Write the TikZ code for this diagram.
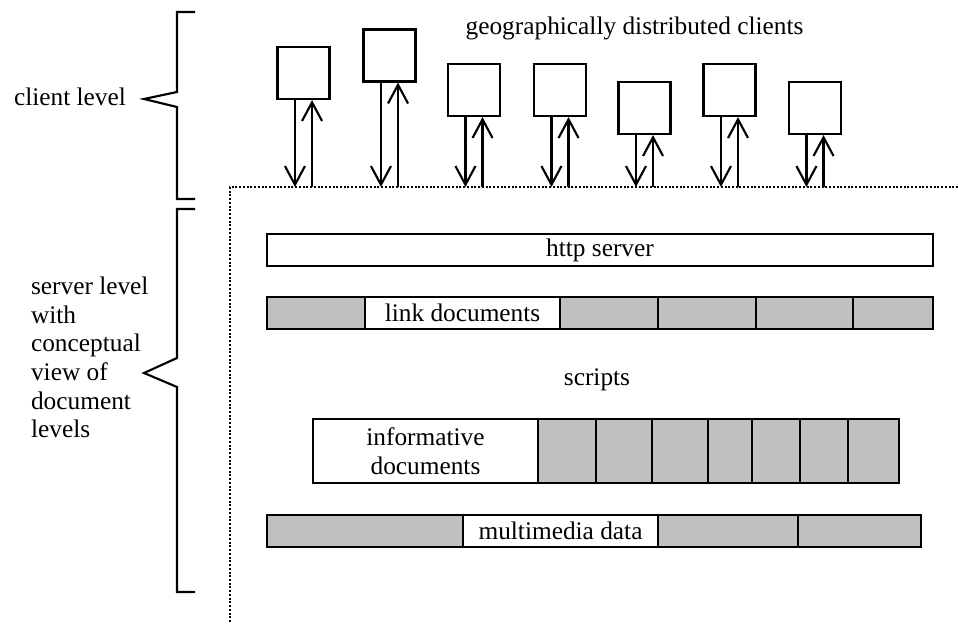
\documentclass[tikz,border=0pt]{standalone}
\usepackage{fontspec}
\setmainfont{Liberation Serif}
\usetikzlibrary{arrows.meta}
\definecolor{cellgray}{HTML}{C0C0C0}
\tikzset{
  client/.style={draw, fill=white, inner sep=0pt, minimum width=39pt, minimum height=39pt},
  cell/.style={draw, fill=cellgray, inner sep=0pt, minimum height=24pt},
  txtcell/.style={cell, fill=white, align=center},
  dnarrow/.style={-{Straight Barb[length=14pt,width=15pt]}},
  uparrow/.style={-{Straight Barb[length=14pt,width=15pt]}},
  dotline/.style={line width=1.5pt, dash pattern=on 1.5pt off 1.3pt},
}
\begin{document}
\begin{tikzpicture}[x=0.75pt, y=-0.75pt, line width=1.6pt, font=\fontsize{19}{21.5}\selectfont]
\useasboundingbox (0,0) rectangle (958,624);
% braces on the left
\draw[] (195,12) -- (177,12) -- (177,92) -- (144,99) -- (177,107) -- (177,199) -- (195,199);
\draw[] (195,209) -- (177,209) -- (177,358) -- (144,373) -- (177,387) -- (177,592) -- (195,592);
\node[anchor=base west, inner sep=0pt] (clientlvl) at (13,106) {client level};
\node[anchor=north west, align=left, inner sep=0pt] (serverlvl) at (30,276) {server level\\with\\conceptual\\view of\\document\\levels};
% clients
\node[anchor=base, inner sep=0pt] (geo) at (634.5,35) {geographically distributed clients};
\node[client] (c1) at (303.5,73){};
\node[client] (c2) at (389.5,55.5){};
\node[client] (c3) at (474,90){};
\node[client] (c4) at (560,90){};
\node[client] (c5) at (644.5,108){};
\node[client] (c6) at (729.5,90){};
\node[client] (c7) at (815,108){};
% server border
\coordinate (srvtop) at (230,187);
\coordinate (srvend) at (958,187);
\coordinate (srvbot) at (230,624);
\draw[dotline] (srvend) -- (srvtop) -- (srvbot);
\draw[dnarrow] ([xshift=-6.4pt]c1.south) -- ([xshift=-6.4pt]c1.south |- srvtop);
\draw[uparrow] ([xshift=6.4pt]c1.south |- srvtop) -- ([xshift=6.4pt]c1.south);
\draw[dnarrow] ([xshift=-6.4pt]c2.south) -- ([xshift=-6.4pt]c2.south |- srvtop);
\draw[uparrow] ([xshift=6.4pt]c2.south |- srvtop) -- ([xshift=6.4pt]c2.south);
\draw[dnarrow] ([xshift=-6.4pt]c3.south) -- ([xshift=-6.4pt]c3.south |- srvtop);
\draw[uparrow] ([xshift=6.4pt]c3.south |- srvtop) -- ([xshift=6.4pt]c3.south);
\draw[dnarrow] ([xshift=-6.4pt]c4.south) -- ([xshift=-6.4pt]c4.south |- srvtop);
\draw[uparrow] ([xshift=6.4pt]c4.south |- srvtop) -- ([xshift=6.4pt]c4.south);
\draw[dnarrow] ([xshift=-6.4pt]c5.south) -- ([xshift=-6.4pt]c5.south |- srvtop);
\draw[uparrow] ([xshift=6.4pt]c5.south |- srvtop) -- ([xshift=6.4pt]c5.south);
\draw[dnarrow] ([xshift=-6.4pt]c6.south) -- ([xshift=-6.4pt]c6.south |- srvtop);
\draw[uparrow] ([xshift=6.4pt]c6.south |- srvtop) -- ([xshift=6.4pt]c6.south);
\draw[dnarrow] ([xshift=-6.4pt]c7.south) -- ([xshift=-6.4pt]c7.south |- srvtop);
\draw[uparrow] ([xshift=6.4pt]c7.south |- srvtop) -- ([xshift=6.4pt]c7.south);
% http server
\node[txtcell, minimum width=499.5pt] (http) at (600,250){http server};
% link documents
\node[cell, minimum width=73.5pt] (link1) at (316,313){};
\node[txtcell, minimum width=146.25pt] (link2) at (462.5,313){link documents};
\node[cell, minimum width=73.5pt] (link3) at (609,313){};
\node[cell, minimum width=73.5pt] (link4) at (707,313){};
\node[cell, minimum width=72.75pt] (link5) at (804.5,313){};
\node[cell, minimum width=60pt] (link6) at (893,313){};
% scripts
\node[inner sep=0pt] (scripts) at (597,380){scripts};
% informative documents
\node[txtcell, minimum width=168.75pt, minimum height=48pt] (info1) at (425.5,451){informative\\documents};
\node[cell, minimum width=43.5pt, minimum height=48pt] (info2) at (567,451){};
\node[cell, minimum width=42pt, minimum height=48pt] (info3) at (624,451){};
\node[cell, minimum width=42pt, minimum height=48pt] (info4) at (680,451){};
\node[cell, minimum width=33pt, minimum height=48pt] (info5) at (730,451){};
\node[cell, minimum width=36pt, minimum height=48pt] (info6) at (776,451){};
\node[cell, minimum width=36pt, minimum height=48pt] (info7) at (824,451){};
\node[cell, minimum width=38.25pt, minimum height=48pt] (info8) at (873.5,451){};
% multimedia data
\node[cell, minimum width=147pt] (mm1) at (365,531){};
\node[txtcell, minimum width=146.25pt] (mm2) at (560.5,531){multimedia data};
\node[cell, minimum width=105pt] (mm3) at (728,531){};
\node[cell, minimum width=92.25pt] (mm4) at (859.5,531){};
\end{tikzpicture}
\end{document}
